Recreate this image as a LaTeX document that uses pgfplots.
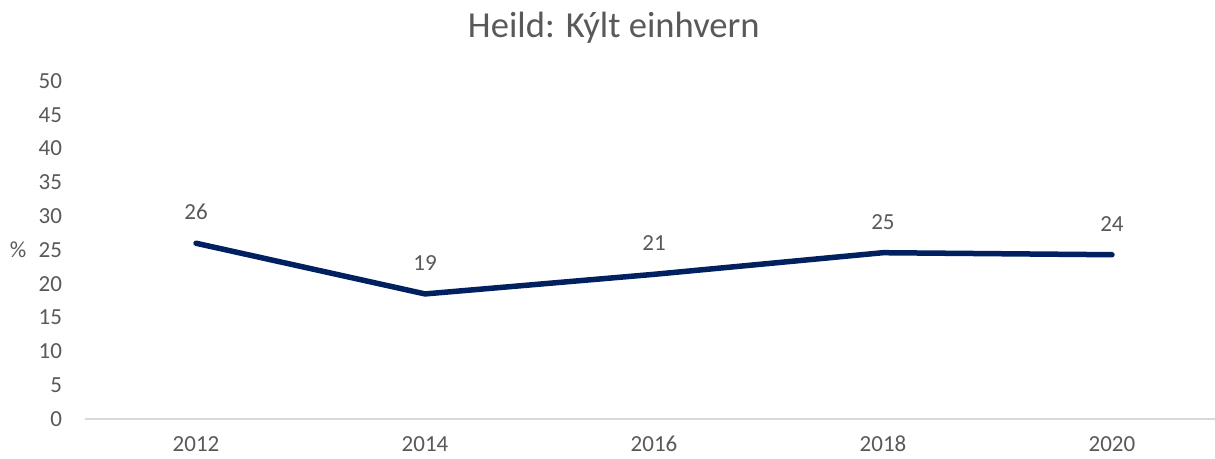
\documentclass[border=0pt]{standalone}
\usepackage{pgfplots}
\pgfplotsset{compat=1.18}
\usepackage{fontspec}
\setmainfont{Carlito}
\definecolor{txt}{HTML}{595959}
\definecolor{navy}{HTML}{002060}
\definecolor{axgray}{HTML}{D9D9D9}
\begin{document}
\begin{tikzpicture}
\path[use as bounding box] (-42.5pt,-20pt) rectangle (565pt,209.5pt);
\begin{axis}[
  at={(0,0)}, anchor=south west,
  scale only axis, width=565pt, height=169pt,
  xmin=-0.485, xmax=4.45,
  ymin=0, ymax=50,
  xtick={0,1,2,3,4},
  xticklabels={2012,2014,2016,2018,2020},
  ytick={0,5,...,50},
  axis x line*=bottom,
  axis y line*=left,
  x axis line style={draw=axgray, line width=0.75pt, -},
  y axis line style={draw=none},
  xtick style={draw=none},
  ytick style={draw=none},
  font=\fontsize{11.5pt}{13pt}\selectfont,
  ticklabel style={text=txt},
  /pgf/number format/assume math mode=true,
  xticklabel style={anchor=base, yshift=-16.5pt},
  yticklabel style={anchor=east, xshift=-8pt},
  title={Heild: Kýlt einhvern},
  title style={at={(0.468,1)}, anchor=center, yshift=20.5pt, text=txt, font=\fontsize{18.3pt}{21pt}\selectfont},
  ylabel={\%},
  ylabel style={at={(axis description cs:-0.0593,0.5)}, rotate=-90, anchor=center, text=txt},
  clip=false,
  point meta=explicit symbolic,
  nodes near coords,
  nodes near coords style={anchor=center, yshift=15.5pt, text=txt, font=\fontsize{11.5pt}{13pt}\selectfont},
]
\addplot[navy, line width=2.75pt, line cap=round, line join=round, mark=none]
  table[x=x, y=y, meta=l] {
x y l
0 26.0 26
1 18.5 19
2 21.4 21
3 24.6 25
4 24.3 24
};
\end{axis}
\end{tikzpicture}
\end{document}
